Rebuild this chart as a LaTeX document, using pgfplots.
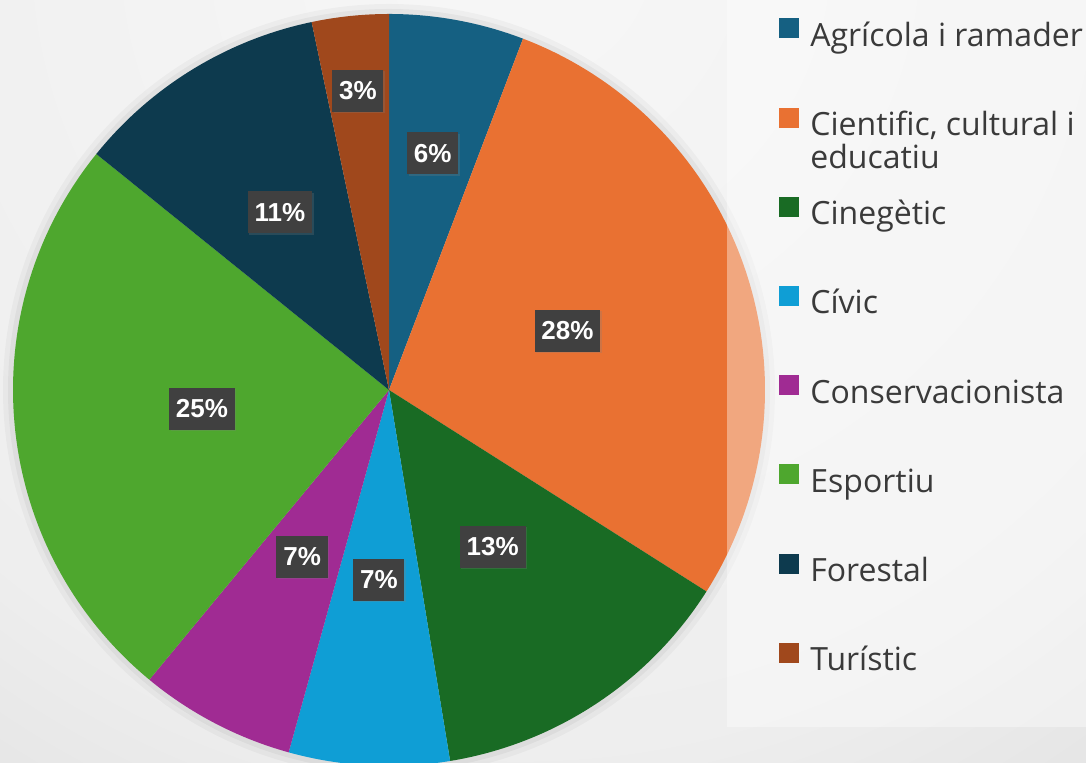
\documentclass[border=0pt]{standalone}
\usepackage{fontspec}
\setmainfont{Open Sans}
\newfontfamily\lblfont{Liberation Sans}
\usepackage{pgfplots}
\usepackage{pgfplotstable}
\pgfplotsset{compat=1.18}
\usetikzlibrary{shadows}

\definecolor{pc0}{HTML}{156082}
\definecolor{pc1}{HTML}{E97132}
\definecolor{pc2}{HTML}{196B24}
\definecolor{pc3}{HTML}{0F9ED5}
\definecolor{pc4}{HTML}{A02B93}
\definecolor{pc5}{HTML}{4EA72E}
\definecolor{pc6}{HTML}{0D3A4E}
\definecolor{pc7}{HTML}{A0481C}
\definecolor{bgin}{HTML}{F7F7F7}
\definecolor{bgmid}{HTML}{EEEEEE}
\definecolor{bgout}{HTML}{B8B8B8}
\definecolor{legtext}{HTML}{3A3A3A}
\definecolor{lblbox}{HTML}{404040}
\pgfdeclareradialshading{bgshade}{\pgfpoint{0bp}{0bp}}{color(0bp)=(bgin); color(20bp)=(bgmid); color(50bp)=(bgout)}

\pgfplotsset{sq/.style={legend image code/.code={\fill[##1, draw=none] (0pt,0pt) rectangle (10pt,10pt);}}}
\tikzset{lbl/.style={fill=lblbox, text=white,
    font=\lblfont\bfseries\fontsize{13}{13}\selectfont,
    inner xsep=3.4pt, inner ysep=0pt, minimum height=21pt,
    drop shadow={opacity=0.25, shadow xshift=0.8pt, shadow yshift=-0.8pt}}}

\begin{document}
\begin{tikzpicture}
\useasboundingbox (0,0) rectangle (543pt,381.5pt);

% share of each use (percent), label value, label radius (fraction of R)
\pgfplotstableread{
share label lpos
5.8  6  0.64
28.2 28 0.50
13.4 13 0.50
6.9  7  0.505
6.7  7  0.50
24.8 25 0.50
10.9 11 0.555
3.3  3  0.80
}\piedata

% start/end/mid angles, clockwise from 12 o'clock
\gdef\cum{0}
\foreach \i in {0,...,7}{%
  \pgfplotstablegetelem{\i}{share}\of\piedata
  \pgfmathsetmacro\sa{90-3.6*\cum}%
  \pgfmathsetmacro\nc{\cum+\pgfplotsretval}%
  \pgfmathsetmacro\ea{90-3.6*\nc}%
  \pgfmathsetmacro\ma{(\sa+\ea)/2}%
  \expandafter\xdef\csname pieS\i\endcsname{\sa}%
  \expandafter\xdef\csname pieE\i\endcsname{\ea}%
  \expandafter\xdef\csname pieM\i\endcsname{\ma}%
  \pgfplotstablegetelem{\i}{lpos}\of\piedata
  \pgfmathsetmacro\lr{188*\pgfplotsretval}%
  \expandafter\xdef\csname pieR\i\endcsname{\lr}%
  \pgfplotstablegetelem{\i}{label}\of\piedata
  \expandafter\xdef\csname pieL\i\endcsname{\pgfplotsretval}%
  \xdef\cum{\nc}%
}

\begin{scope}
  \clip (0,0) rectangle (543pt,381.5pt);
  \shade[shading=bgshade] (260pt,406.5pt) circle (500pt);
\end{scope}

\begin{axis}[
  at={(0,0)}, anchor=south west,
  x=0.5pt, y=0.5pt,
  xmin=0, xmax=1086, ymin=0, ymax=763,
  scale only axis, hide axis, clip=false,
  legend cell align=left,
  legend style={at={(0.7173,0.9765)}, anchor=north west,
    draw=none, fill=none, inner sep=0pt,
    font=\fontsize{16}{16.5}\selectfont, text=legtext,
    row sep=26.6pt, column sep=5.5pt,
    nodes={inner sep=0pt, text height=12pt, text depth=4pt}},
]
% soft halo round the pie
\fill[black, opacity=0.03] (axis cs:389,373) circle[radius=193pt];
\fill[black, opacity=0.04] (axis cs:389,373) circle[radius=190.5pt];

\pgfplotsinvokeforeach{0,...,7}{
  \fill[pc#1] (axis cs:389,373) -- ([shift={(\csname pieS#1\endcsname:188pt)}]axis cs:389,373)
    arc[start angle=\csname pieS#1\endcsname, end angle=\csname pieE#1\endcsname, radius=188pt] -- cycle;
}

% translucent legend panel
\fill[white, opacity=0.38] (axis cs:727,36) rectangle (axis cs:1086,763);

\pgfplotsinvokeforeach{0,...,7}{
  \node[lbl] at ([shift={(\csname pieM#1\endcsname:\csname pieR#1\endcsname pt)}]axis cs:389,373)
    {\csname pieL#1\endcsname\%};
}

\addlegendimage{sq, fill=pc0} \addlegendentry{Agrícola i ramader}
\addlegendimage{sq, fill=pc1} \addlegendentry{\smash{\parbox[t]{150pt}{Cientific, cultural i\\educatiu}}}
\addlegendimage{sq, fill=pc2} \addlegendentry{Cinegètic}
\addlegendimage{sq, fill=pc3} \addlegendentry{Cívic}
\addlegendimage{sq, fill=pc4} \addlegendentry{Conservacionista}
\addlegendimage{sq, fill=pc5} \addlegendentry{Esportiu}
\addlegendimage{sq, fill=pc6} \addlegendentry{Forestal}
\addlegendimage{sq, fill=pc7} \addlegendentry{Turístic}
\end{axis}
\end{tikzpicture}
\end{document}
